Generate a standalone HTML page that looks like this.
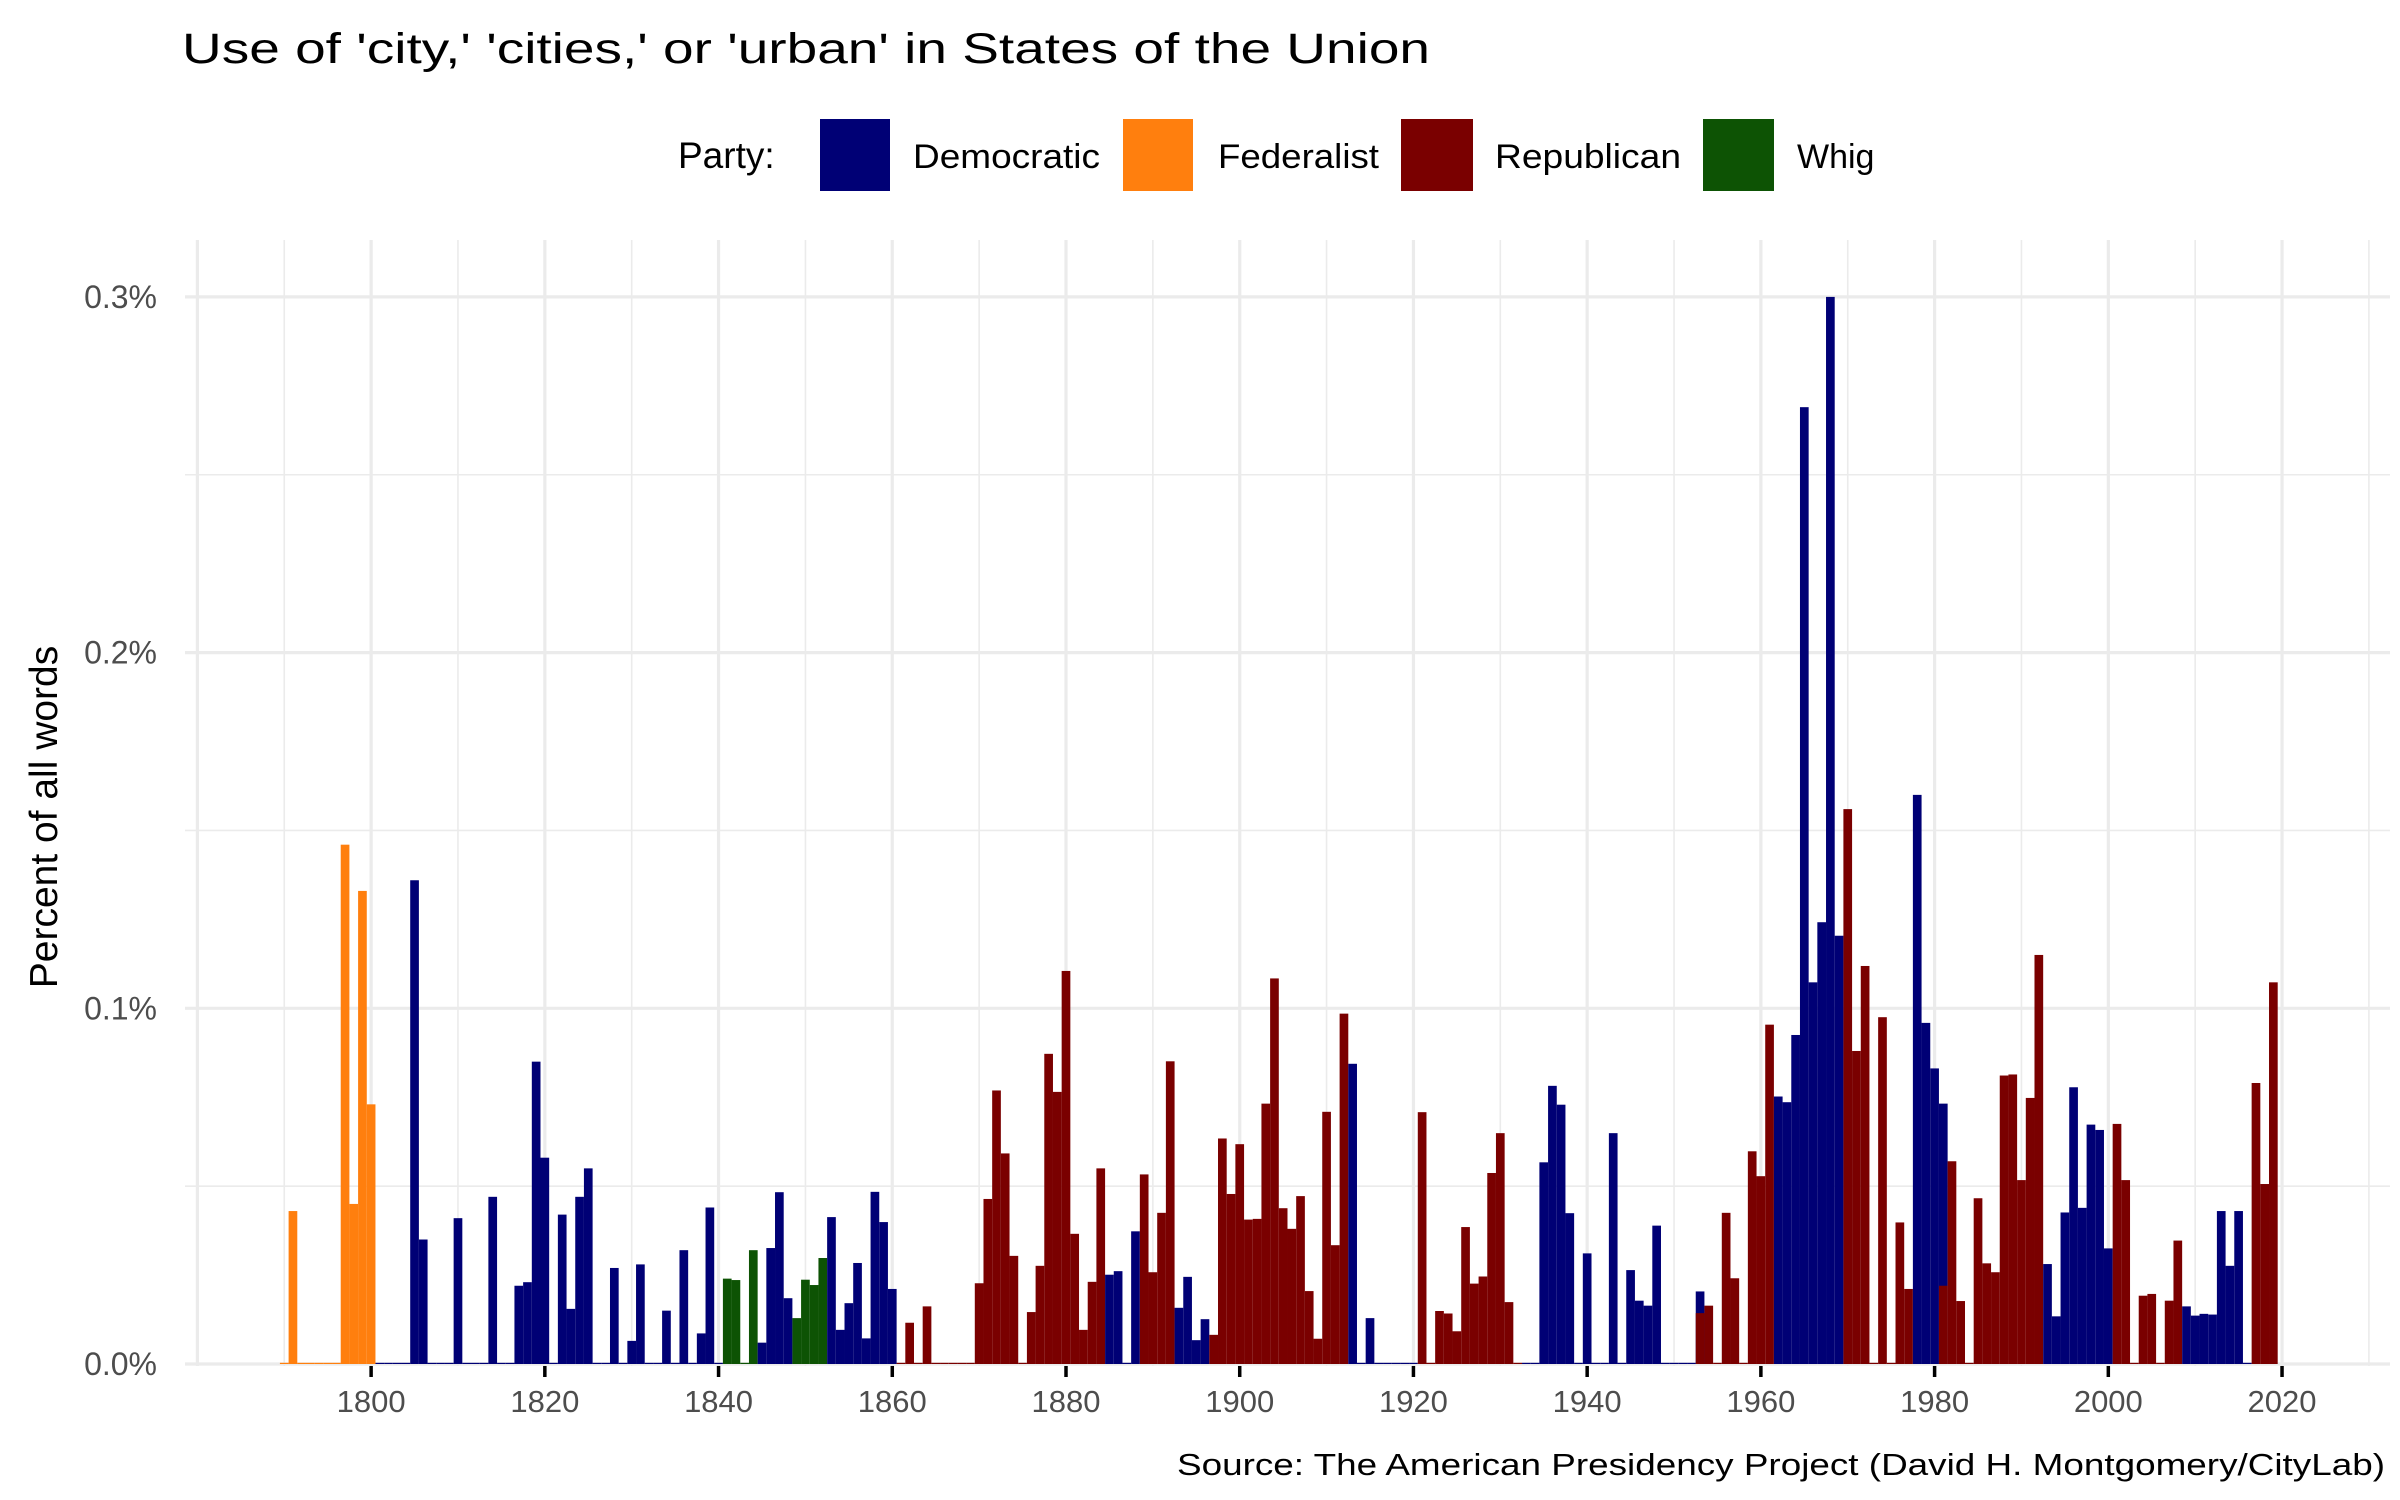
<!DOCTYPE html>
<html><head><meta charset="utf-8"><style>
html,body{margin:0;padding:0;background:#fff;}
svg{display:block;font-family:"Liberation Sans",Arial,sans-serif;}
</style></head><body>
<svg id="chart" width="2400" height="1500" viewBox="0 0 2400 1500" xmlns="http://www.w3.org/2000/svg">
<rect width="2400" height="1500" fill="#fff"/>
<text x="182" y="63" font-size="43" fill="#000" textLength="1248" lengthAdjust="spacingAndGlyphs">Use of 'city,' 'cities,' or 'urban' in States of the Union</text>
<g>
<text x="678" y="168" font-size="37" fill="#000">Party:</text>
<g><rect x="820" y="119" width="70" height="72" fill="#000075"/><text x="913" y="168" font-size="34" fill="#000" textLength="187" lengthAdjust="spacingAndGlyphs">Democratic</text></g>
<g><rect x="1123" y="119" width="70" height="72" fill="#FF7F0E"/><text x="1218" y="168" font-size="34" fill="#000" textLength="161" lengthAdjust="spacingAndGlyphs">Federalist</text></g>
<g><rect x="1401" y="119" width="72" height="72" fill="#7A0000"/><text x="1495" y="168" font-size="34" fill="#000" textLength="186" lengthAdjust="spacingAndGlyphs">Republican</text></g>
<g><rect x="1703" y="119" width="71" height="72" fill="#0D5304"/><text x="1797" y="168" font-size="34" fill="#000">Whig</text></g>
</g>
<g id="grid"></g>
<g id="bars"></g>
<g id="axes"></g>
<text transform="translate(57,817) rotate(-90)" text-anchor="middle" font-size="39" fill="#000">Percent of all words</text>
<text x="2385" y="1475" text-anchor="end" font-size="31" fill="#000" textLength="1208" lengthAdjust="spacingAndGlyphs">Source: The American Presidency Project (David H. Montgomery/CityLab)</text>
</svg>
<script>
const years = [1790,1791,1792,1793,1794,1795,1796,1797,1798,1799,1800,1801,1802,1803,1804,1805,1806,1807,1808,1809,1810,1811,1812,1813,1814,1815,1816,1817,1818,1819,1820,1821,1822,1823,1824,1825,1826,1827,1828,1829,1830,1831,1832,1833,1834,1835,1836,1837,1838,1839,1840,1841,1842,1843,1844,1845,1846,1847,1848,1849,1850,1851,1852,1853,1854,1855,1856,1857,1858,1859,1860,1861,1862,1863,1864,1865,1866,1867,1868,1869,1870,1871,1872,1873,1874,1875,1876,1877,1878,1879,1880,1881,1882,1883,1884,1885,1886,1887,1888,1889,1890,1891,1892,1893,1894,1895,1896,1897,1898,1899,1900,1901,1902,1903,1904,1905,1906,1907,1908,1909,1910,1911,1912,1913,1914,1915,1916,1917,1918,1919,1920,1921,1922,1923,1924,1925,1926,1927,1928,1929,1930,1931,1932,1933,1934,1935,1936,1937,1938,1939,1940,1941,1942,1943,1944,1945,1946,1947,1948,1949,1950,1951,1952,1953,1954,1955,1956,1957,1958,1959,1960,1961,1962,1963,1964,1965,1966,1967,1968,1969,1970,1971,1972,1973,1974,1975,1976,1977,1978,1979,1980,1981,1982,1983,1984,1985,1986,1987,1988,1989,1990,1991,1992,1993,1994,1995,1996,1997,1998,1999,2000,2001,2002,2003,2004,2005,2006,2007,2008,2009,2010,2011,2012,2013,2014,2015,2016,2017,2018,2019,1953,1981];
const values = [0,0.043,0,0,0,0,0,0.146,0.045,0.133,0.073,0,0,0,0,0.136,0.035,0,0,0,0.041,0,0,0,0.047,0,0,0.022,0.023,0.085,0.058,0,0.042,0.0155,0.047,0.055,0,0,0.027,0,0.0065,0.028,0,0,0.015,0,0.032,0,0.0086,0.044,0,0.024,0.0236,0,0.032,0.006,0.0326,0.0483,0.0185,0.0129,0.0237,0.0222,0.0298,0.0413,0.0096,0.0171,0.0284,0.0072,0.0484,0.0399,0.0211,0,0.0116,0,0.0162,0,0,0,0,0,0.0227,0.0464,0.0769,0.0592,0.0304,0,0.0146,0.0276,0.0872,0.0765,0.1105,0.0366,0.0096,0.0231,0.055,0.0251,0.0261,0,0.0373,0.0533,0.0258,0.0425,0.0851,0.0158,0.0245,0.0067,0.0126,0.0082,0.0634,0.0478,0.0618,0.0406,0.0408,0.0732,0.1084,0.0438,0.038,0.0472,0.0205,0.0071,0.0709,0.0334,0.0985,0.0844,0,0.0129,0,0,0,0,0,0.0708,0,0.0149,0.0142,0.0092,0.0385,0.0226,0.0246,0.0537,0.0649,0.0174,0,0,0,0.0567,0.0782,0.0729,0.0424,0,0.0311,0,0,0.0649,0,0.0264,0.0178,0.0164,0.0389,0,0,0,0,0.0204,0.0164,0,0.0425,0.0241,0,0.0598,0.0528,0.0954,0.0752,0.0736,0.0925,0.269,0.1073,0.1242,0.300,0.1204,0.156,0.088,0.1119,0,0.0975,0,0.0398,0.0211,0.160,0.0959,0.0831,0.0732,0.057,0.0177,0,0.0466,0.0283,0.0258,0.0811,0.0814,0.0517,0.0748,0.115,0.0281,0.0134,0.0426,0.0778,0.0439,0.0673,0.0658,0.0325,0.0675,0.0517,0,0.0192,0.0197,0,0.0178,0.0347,0.0162,0.0136,0.0141,0.0139,0.043,0.0276,0.043,0,0.079,0.0506,0.1073,0.0143,0.022];
const partySegments = [
  "FFFFFFFFFFF",
  "DDDDDDDDDDDDDDDDDDDDDDDDDDDDDDDDDDDDDDDD",
  "WWWW","DDDD","WWWW","DDDDDDDD",
  "RRRRRRRRRRRRRRRRRRRRRRRR",
  "DDDD","RRRR","DDDD","RRRRRRRRRRRRRRRR",
  "DDDDDDDD","RRRRRRRRRRRR",
  "DDDDDDDDDDDDDDDDDDDDD",
  "RRRRRRRR","DDDDDDDD","RRRRRRRR","DDDD",
  "RRRRRRRRRRR","DDDDDDDD","RRRRRRRR","DDDDDDDD","RRR",
  "RR"
];
const parties = partySegments.join('');
const xTicks = [1800,1820,1840,1860,1880,1900,1920,1940,1960,1980,2000,2020];
const yTicks = [0,0.1,0.2,0.3];
const yTickLabels = ["0.0%","0.1%","0.2%","0.3%"];
const colors = {D:"#000075",F:"#FF7F0E",R:"#7A0000",W:"#0D5304"};
const NS = "http://www.w3.org/2000/svg";
const X = yr => 1066 + (yr - 1880) * 8.686;
const Y = v => 1364 - v * 3557;
const panelL = 185, panelR = 2390, panelT = 240;
function mk(tag, attrs, parent){const e=document.createElementNS(NS,tag);for(const k in attrs)e.setAttribute(k,attrs[k]);parent.appendChild(e);return e;}
const grid = document.getElementById('grid');
for (let v = 0.05; v < 0.3; v += 0.1) {
  const l = mk('line',{x1:panelL,x2:panelR,y1:Y(v),y2:Y(v),stroke:'#ebebeb','stroke-width':1.6},grid);
  
  
}
yTicks.forEach(v => {
  const l = mk('line',{x1:panelL,x2:panelR,y1:Y(v),y2:Y(v),stroke:'#ebebeb','stroke-width':3.2},grid);
  
  
});
for (let yr = 1790; yr <= 2030; yr += 20) {
  const l = mk('line',{x1:X(yr),x2:X(yr),y1:panelT,y2:1366,stroke:'#ebebeb','stroke-width':1.6},grid);
  
  
}
[1780].concat(xTicks).forEach(yr => {
  const l = mk('line',{x1:X(yr),x2:X(yr),y1:panelT,y2:1366,stroke:'#ebebeb','stroke-width':3.2},grid);
  
  
});
const bars = document.getElementById('bars');
const bw = 8.686;
values.forEach((v, i) => {
  const p = parties[i] || 'D';
  const h = Math.max(v * 3557, 1.2);
  const r = mk('rect',{x:X(years[i]) - bw/2,y:Y(0) - h,width:bw,height:h,fill:colors[p]},bars);
  
  
});
const axes = document.getElementById('axes');
xTicks.forEach(yr => {
  const t = mk('line',{x1:X(yr),x2:X(yr),y1:1366,y2:1377,stroke:'#000','stroke-width':3.5},axes);
  
  
  const lb = mk('text',{x:X(yr),y:1412,'text-anchor':'middle','font-size':31,fill:'#4d4d4d'},axes);
  lb.textContent = yr;
  
  
});
yTicks.forEach((v, i) => {
  const lb = mk('text',{x:157,y:Y(v) + 11,'text-anchor':'end','font-size':32,fill:'#4d4d4d'},axes);
  lb.textContent = yTickLabels[i];
  
  
});
</script>
</body></html>
